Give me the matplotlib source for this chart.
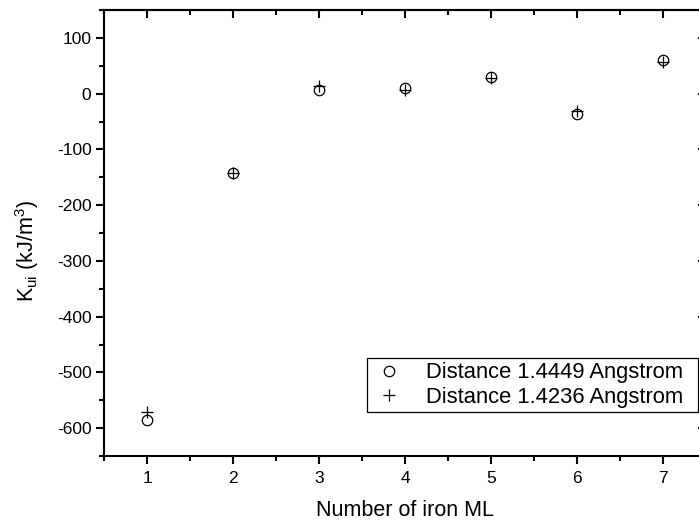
import matplotlib
matplotlib.use("Agg")
import matplotlib.pyplot as plt
from matplotlib.ticker import MultipleLocator

plt.rcParams['font.family'] = ['Liberation Sans', 'DejaVu Sans']
plt.rcParams['axes.unicode_minus'] = False

layers = [1, 2, 3, 4, 5, 6, 7]
k_14449 = [-586, -143, 6, 10, 29, -37, 60]
k_14236 = [-571, -143, 13, 7, 28, -31, 56]
label_a = "Distance 1.4449 Angstrom"
label_b = "Distance 1.4236 Angstrom"

W, H = 699, 527
fig = plt.figure(figsize=(W / 100, H / 100), dpi=100)
l, r, t, b = 104, 706, 10, 456
ax = fig.add_axes([l / W, 1 - b / H, (r - l) / W, (b - t) / H])

ax.plot(layers, k_14449, linestyle='none', marker='o', markersize=7.5,
        markerfacecolor='none', markeredgecolor='black', markeredgewidth=0.9,
        label=label_a)
ax.plot(layers, k_14236, linestyle='none', marker='+', markersize=9,
        color='black', markeredgewidth=0.9, label=label_b)

ax.set_xlim(0.5, 7.5)
ax.set_ylim(-650, 150)
ax.xaxis.set_major_locator(MultipleLocator(1))
ax.xaxis.set_minor_locator(MultipleLocator(0.5))
ax.yaxis.set_major_locator(MultipleLocator(100))
ax.yaxis.set_minor_locator(MultipleLocator(50))

for s in ax.spines.values():
    s.set_linewidth(1.5)

ax.tick_params(axis='both', which='major', direction='out', length=6, width=1.5,
               labelsize=12.5, top=False, right=False)
ax.tick_params(axis='both', which='minor', direction='out', length=3.5, width=1.5,
               top=False, right=False)
ax.tick_params(axis='x', which='major', pad=5)
ax.tick_params(axis='y', which='major', pad=3)

# inward ticks on top and right
sec_x = ax.secondary_xaxis('top')
sec_x.xaxis.set_major_locator(MultipleLocator(1))
sec_x.xaxis.set_minor_locator(MultipleLocator(0.5))
sec_x.tick_params(which='major', direction='in', length=6, width=1.5, labeltop=False)
sec_x.tick_params(which='minor', direction='in', length=3.5, width=1.5)
sec_x.spines['top'].set_linewidth(1.5)
sec_y = ax.secondary_yaxis('right')
sec_y.yaxis.set_major_locator(MultipleLocator(100))
sec_y.yaxis.set_minor_locator(MultipleLocator(50))
sec_y.tick_params(which='major', direction='in', length=6, width=1.5, labelright=False)
sec_y.tick_params(which='minor', direction='in', length=3.5, width=1.5)

ax.set_xlabel("Number of iron ML", fontsize=15.5, labelpad=10)
ax.set_ylabel(r"K$_{\mathregular{ui}}$ (kJ/m$^{\mathregular{3}}$)", fontsize=15.5)
ax.yaxis.set_label_coords(-0.105, 0.46)

leg = ax.legend(loc='lower left',
                bbox_to_anchor=(367 / W, 1 - 412 / H, (698 - 367) / W, (412 - 355) / H),
                bbox_transform=fig.transFigure, mode='expand', borderaxespad=0,
                fontsize=15.8, frameon=True, fancybox=False, edgecolor='black',
                framealpha=1, handletextpad=0.9, borderpad=0.2, labelspacing=0.15,
                handlelength=1.6)
leg.get_frame().set_linewidth(0.9)

fig.savefig("out.png", dpi=100)
